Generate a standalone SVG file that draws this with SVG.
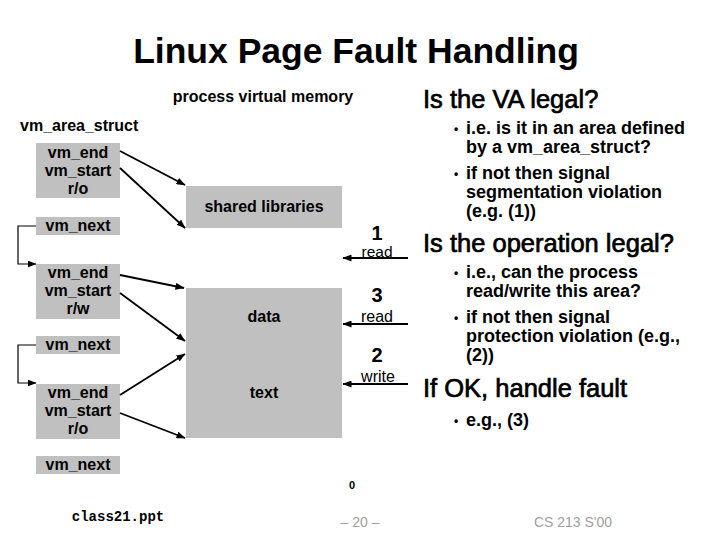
<svg xmlns="http://www.w3.org/2000/svg" width="720" height="540" viewBox="0 0 720 540">
<style>
.b{font-family:"Liberation Sans",Arial,sans-serif;font-weight:bold;font-size:16px;fill:#000}
.c{text-anchor:middle}
.r{font-family:"Liberation Sans",Arial,sans-serif;font-size:16px;fill:#000}
.h{font-family:"Liberation Sans",Arial,sans-serif;font-size:25.5px;fill:#000;stroke:#000;stroke-width:0.7}
.t{font-family:"Liberation Sans",Arial,sans-serif;font-weight:bold;font-size:18px;fill:#000}
.n{font-family:"Liberation Sans",Arial,sans-serif;font-weight:bold;font-size:20px;fill:#000;text-anchor:middle}
.g{fill:#c0c0c0}
.a{stroke:#000;stroke-width:1.8;fill:none;marker-end:url(#ah)}
.l{stroke:#000;stroke-width:1.2;fill:none}
.f{font-family:"Liberation Sans",Arial,sans-serif;font-size:14px;fill:#a0a0a0}
</style>
<defs>
<marker id="ah" markerUnits="userSpaceOnUse" markerWidth="9" markerHeight="7" refX="8.5" refY="3.5" orient="auto">
<path d="M0,0 L9,3.5 L0,7 z" fill="#000"/>
</marker>
</defs>
<rect width="720" height="540" fill="#fff"/>
<text x="356" y="63" class="c" style="font-family:'Liberation Sans',Arial,sans-serif;font-weight:bold;font-size:35.5px">Linux Page Fault Handling</text>
<text x="263" y="102" class="b c">process virtual memory</text>
<text x="20" y="131" class="b">vm_area_struct</text>

<g id="area1">
<rect x="36" y="143" width="84" height="55" class="g"/>
<text x="78" y="158" class="b c">vm_end</text>
<text x="78" y="176" class="b c">vm_start</text>
<text x="78" y="194" class="b c">r/o</text>
</g>
<g id="next1">
<rect x="36" y="217" width="84" height="18" class="g"/>
<text x="78" y="231" class="b c">vm_next</text>
</g>
<g id="area2">
<rect x="36" y="264" width="84" height="55" class="g"/>
<text x="78" y="278" class="b c">vm_end</text>
<text x="78" y="296" class="b c">vm_start</text>
<text x="78" y="314" class="b c">r/w</text>
</g>
<g id="next2">
<rect x="36" y="336" width="84" height="18" class="g"/>
<text x="78" y="350" class="b c">vm_next</text>
</g>
<g id="area3">
<rect x="36" y="384" width="84" height="55" class="g"/>
<text x="78" y="398" class="b c">vm_end</text>
<text x="78" y="416" class="b c">vm_start</text>
<text x="78" y="434" class="b c">r/o</text>
</g>
<g id="next3">
<rect x="36" y="456" width="84" height="18" class="g"/>
<text x="78" y="470" class="b c">vm_next</text>
</g>

<g id="shlib">
<rect x="186" y="186" width="156" height="42" class="g"/>
<text x="264" y="212" class="b c">shared libraries</text>
</g>
<g id="datatext">
<rect x="186" y="288" width="156" height="150" class="g"/>
<text x="264" y="322" class="b c">data</text>
<text x="264" y="398" class="b c">text</text>
</g>

<g id="connectors">
<path d="M36,226 H18 V264 H36" class="l" marker-end="url(#ah)"/>
<path d="M36,345 H18 V383 H36" class="l" marker-end="url(#ah)"/>
<line x1="120" y1="151" x2="185" y2="185" class="a"/>
<line x1="120" y1="168" x2="185" y2="228" class="a"/>
<line x1="120" y1="275" x2="184" y2="288" class="a"/>
<line x1="120" y1="293" x2="185" y2="341" class="a"/>
<line x1="120" y1="395" x2="185" y2="354" class="a"/>
<line x1="120" y1="413" x2="185" y2="438" class="a"/>
<line x1="408" y1="258" x2="343" y2="258" class="a"/>
<line x1="408" y1="324" x2="343" y2="324" class="a"/>
<line x1="408" y1="384" x2="343" y2="384" class="a"/>
</g>

<g id="labels">
<text x="377" y="240" class="n">1</text>
<text x="377" y="256.5" class="r c" style="font-size:15.5px">read</text>
<text x="377" y="302" class="n">3</text>
<text x="377" y="322" class="r c">read</text>
<text x="377" y="362" class="n">2</text>
<text x="378" y="382" class="r c">write</text>
<text x="352" y="489" class="c" style="font-family:'Liberation Sans',Arial,sans-serif;font-weight:bold;font-size:11px">0</text>
</g>

<g id="notes">
<text x="423" y="108" class="h">Is the VA legal?</text>
<text x="454" y="133" class="t" style="font-size:12px">•</text>
<text x="466" y="134" class="t">i.e. is it in an area defined</text>
<text x="466" y="153" class="t">by a vm_area_struct?</text>
<text x="454" y="178" class="t" style="font-size:12px">•</text>
<text x="466" y="179" class="t">if not then signal</text>
<text x="466" y="198" class="t">segmentation violation</text>
<text x="466" y="217" class="t">(e.g. (1))</text>
<text x="423" y="252" class="h">Is the operation legal?</text>
<text x="454" y="277" class="t" style="font-size:12px">•</text>
<text x="466" y="278" class="t">i.e., can the process</text>
<text x="466" y="297" class="t">read/write this area?</text>
<text x="454" y="322" class="t" style="font-size:12px">•</text>
<text x="466" y="323" class="t">if not then signal</text>
<text x="466" y="342" class="t">protection violation (e.g.,</text>
<text x="466" y="361" class="t">(2))</text>
<text x="423" y="397" class="h">If OK, handle fault</text>
<text x="454" y="425" class="t" style="font-size:12px">•</text>
<text x="466" y="426" class="t">e.g., (3)</text>
</g>

<text x="118" y="521" class="c" style="font-family:'Liberation Mono','Courier New',monospace;font-weight:bold;font-size:14px">class21.ppt</text>
<text x="360" y="527" class="f c">– 20 –</text>
<text x="573" y="527" class="f c">CS 213 S'00</text>
</svg>
